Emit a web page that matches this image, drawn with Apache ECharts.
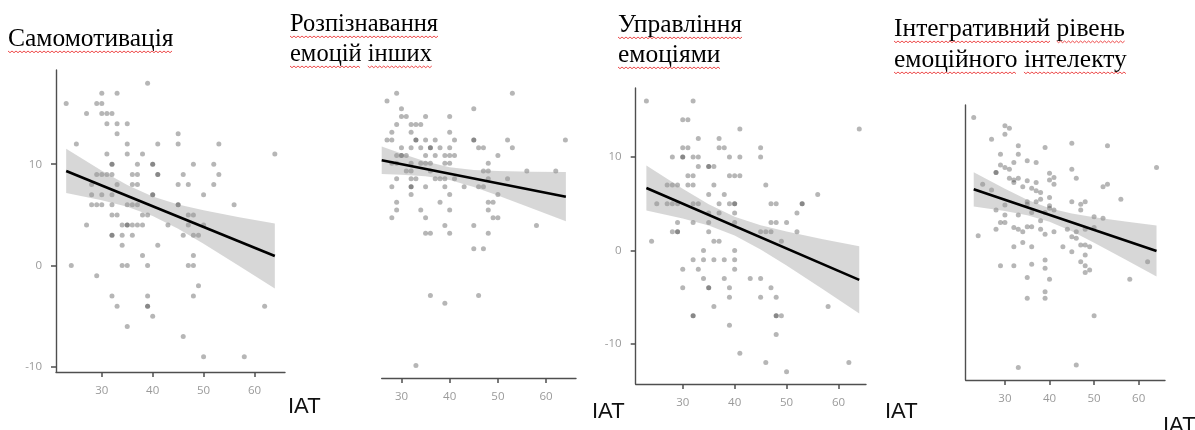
<!DOCTYPE html>
<html><head><meta charset="utf-8">
<script src="https://cdn.jsdelivr.net/npm/echarts@6/dist/echarts.min.js"></script>
<style>html,body{margin:0;padding:0;background:#fff}#c{width:1195px;height:430px}</style>
</head><body><div id="c"></div>
<script>
// ---------- DATA ----------
const xTickValues = [30, 40, 50, 60];
const yTickValues = [-10, 0, 10];
const axisNameText = 'IAT';
const titleLines = [
  ['Самомотивація'],
  ['Розпізнавання', 'емоцій інших'],
  ['Управління', 'емоціями'],
  ['Інтегративний рівень', 'емоційного інтелекту']
];

// Самомотивація
const p1Points = [[23,16],[39,18],[30,17],[33,17],[29,16],[30,16],[27,15],[30,15],[31,15],[32,15],[31,14],[33,14],[35,14],[33,13],[45,13],[25,12],[35,12],[41,12],[45,12],[53,12],[31,11],[35,11],[38,11],[64,11],[32,10],[32,10],[37,10],[40,10],[40,10],[48,10],[52,10],[29,9],[30,9],[31,9],[32,9],[36,9],[37,9],[41,9],[41,9],[46,9],[53,9],[28,8],[33,8],[36,8],[37,8],[45,8],[47,8],[52,8],[28,7],[30,7],[32,7],[40,7],[40,7],[50,7],[28,6],[29,6],[30,6],[32,6],[35,6],[36,6],[37,6],[45,6],[45,6],[56,6],[32,5],[33,5],[38,5],[39,5],[47,5],[48,5],[27,4],[34,4],[35,4],[35,4],[36,4],[37,4],[38,4],[43,4],[47,4],[50,4],[32,3],[32,3],[34,3],[36,3],[46,3],[48,3],[49,3],[34,2],[41,2],[38,1],[48,1],[24,0],[34,0],[35,0],[39,0],[47,0],[48,0],[29,-1],[49,-2],[32,-3],[39,-3],[48,-3],[33,-4],[39,-4],[39,-4],[62,-4],[40,-5],[35,-6],[46,-7],[50,-9],[58,-9]];
const p1FitX = [23, 64];
const p1FitY = [9.34, 0.94];
const p1BandX = [23, 30, 35, 40, 45, 50, 57, 64];
const p1BandUpper = [11.52, 9.36, 7.95, 6.82, 6.03, 5.46, 4.77, 4.15];
const p1BandLower = [7.16, 6.45, 5.81, 4.90, 3.63, 2.16, -0.03, -2.27];

// Розпізнавання емоцій інших
const p2Points = [[29,15],[53,15],[27,14],[30,13],[45,13],[30,12],[31,12],[35,12],[40,12],[29,11],[32,11],[33,11],[34,11],[28,10],[32,10],[40,10],[27,9],[28,9],[33,9],[33,9],[35,9],[37,9],[41,9],[45,9],[45,9],[52,9],[64,9],[30,8],[32,8],[34,8],[36,8],[36,8],[38,8],[40,8],[46,8],[47,8],[53,8],[29,7],[30,7],[30,7],[31,7],[35,7],[37,7],[39,7],[40,7],[41,7],[50,7],[28,6],[29,6],[32,6],[34,6],[35,6],[36,6],[39,6],[40,6],[48,6],[31,5],[32,5],[36,5],[47,5],[48,5],[56,5],[62,5],[29,4],[32,4],[33,4],[37,4],[38,4],[39,4],[41,4],[48,4],[52,4],[28,3],[32,3],[32,3],[35,3],[39,3],[43,3],[46,3],[47,3],[32,2],[40,2],[50,2],[29,1],[38,1],[48,1],[49,1],[29,0],[34,0],[40,0],[48,0],[28,-1],[35,-1],[49,-1],[50,-1],[39,-2],[45,-2],[58,-2],[35,-3],[36,-3],[40,-3],[48,-3],[45,-5],[47,-5],[36,-11],[46,-11],[39,-12],[33,-20]];
const p2FitX = [25.9, 64.1];
const p2FitY = [6.40, 1.70];
const p2BandX = [25.9, 30, 35, 40, 45, 50, 57, 64.1];
const p2BandUpper = [8.17, 7.26, 6.22, 5.48, 5.14, 5.01, 4.92, 4.87];
const p2BandLower = [4.61, 4.54, 4.34, 3.86, 2.96, 1.87, 0.22, -1.45];

// Управління емоціями
const p3Points = [[23,16],[32,16],[30,14],[31,14],[41,13],[64,13],[33,12],[37,12],[30,11],[31,11],[37,11],[38,11],[45,11],[28,10],[30,10],[30,10],[32,10],[33,10],[39,10],[41,10],[45,10],[33,9],[35,9],[35,9],[36,9],[31,8],[32,8],[39,8],[40,8],[41,8],[27,7],[28,7],[29,7],[31,7],[32,7],[36,7],[46,7],[35,6],[38,6],[56,6],[25,5],[27,5],[28,5],[29,5],[32,5],[33,5],[37,5],[39,5],[40,5],[40,5],[47,5],[48,5],[53,5],[53,5],[35,4],[37,4],[40,4],[52,4],[29,3],[32,3],[35,3],[40,3],[47,3],[48,3],[50,3],[28,2],[29,2],[29,2],[35,2],[45,2],[46,2],[47,2],[52,2],[24,1],[36,1],[37,1],[49,1],[34,0],[40,0],[32,-1],[34,-1],[36,-1],[38,-1],[40,-1],[30,-2],[33,-2],[40,-2],[34,-3],[38,-3],[43,-3],[45,-3],[30,-4],[35,-4],[35,-4],[39,-4],[47,-4],[39,-5],[45,-5],[48,-5],[36,-6],[58,-6],[32,-7],[32,-7],[48,-7],[48,-7],[49,-7],[39,-8],[48,-9],[41,-11],[46,-12],[62,-12],[50,-13]];
const p3FitX = [23, 64];
const p3FitY = [6.69, -3.15];
const p3BandX = [23, 30, 35, 40, 45, 50, 57, 64];
const p3BandUpper = [9.11, 6.60, 4.95, 3.62, 2.71, 2.03, 1.21, 0.44];
const p3BandLower = [4.27, 3.42, 2.67, 1.60, 0.11, -1.61, -4.15, -6.74];

// Інтегративний рівень емоційного інтелекту
const p4Points = [[23,16.7],[30,15.7],[31,15.4],[27,14.1],[30,14.7],[33,13.3],[39,13.1],[45,13.6],[53,13.3],[29,12.3],[33,12.3],[35,11.5],[37,11.3],[32,11.3],[29,11.0],[30,10.7],[31,10.5],[28,10.1],[28,10.1],[40,10.0],[41,9.5],[40,9.2],[45,10.5],[46,9.4],[64,10.7],[31,9.4],[32,9.2],[32,8.9],[35,9.1],[37,8.9],[33,9.4],[25,8.7],[27,8.0],[41,8.7],[34,8.4],[36,8.2],[37,7.9],[38,7.7],[53,8.7],[52,8.4],[56,6.9],[40,7.1],[35,6.6],[35,6.3],[37,6.6],[38,6.9],[45,6.6],[47,6.3],[48,6.6],[30,6.2],[28,5.6],[40,6.1],[40,5.8],[41,5.6],[47,5.6],[30,5.0],[33,5.0],[36,5.3],[39,5.3],[38,4.3],[50,4.8],[52,4.6],[29,4.1],[30,4.1],[28,3.3],[32,3.5],[33,3.3],[34,3.0],[35,3.6],[36,3.6],[38,3.3],[39,2.7],[41,3.0],[44,3.3],[46,3.0],[48,3.3],[50,3.5],[24,2.5],[34,1.7],[45,2.4],[46,2.2],[32,1.2],[36,1.2],[43,1.2],[45,0.6],[47,1.4],[48,1.4],[49,1.2],[48,0.2],[39,-0.4],[39,-1.4],[29,-1.1],[32,-1.1],[36,-0.9],[47,-0.6],[48,-1.1],[49,-1.6],[48,-1.9],[62,-0.6],[35,-2.5],[40,-2.7],[58,-2.7],[39,-4.2],[39,-5.0],[35,-5.0],[50,-7.1],[33,-13.3],[46,-13.0]];
const p4FitX = [23, 64];
const p4FitY = [8.08, 0.68];
const p4BandX = [23, 30, 35, 40, 45, 50, 57, 64];
const p4BandUpper = [10.14, 8.15, 6.84, 5.82, 5.18, 4.74, 4.22, 3.74];
const p4BandLower = [6.02, 5.49, 4.98, 4.20, 3.04, 1.68, -0.34, -2.38];

// ---------- LAYOUT ----------
const panels = [
  {pts:p1Points, fx:p1FitX, fy:p1FitY, bx:p1BandX, bu:p1BandUpper, bl:p1BandLower,
   grid:{left:56, top:70, width:229, height:302}, xr:[21,66], yr:[-10.5,19.3], yLine:true, yLabels:true},
  {pts:p2Points, fx:p2FitX, fy:p2FitY, bx:p2BandX, bu:p2BandUpper, bl:p2BandLower,
   grid:{left:381.7, top:85.5, width:194.3, height:292.5}, xr:[25.9,66.2], yr:[-21.6,16], yLine:false, yLabels:false},
  {pts:p3Points, fx:p3FitX, fy:p3FitY, bx:p3BandX, bu:p3BandUpper, bl:p3BandLower,
   grid:{left:635.7, top:88, width:230.3, height:296}, xr:[20.94,65.3], yr:[-14.3,17.4], yLine:true, yLabels:true},
  {pts:p4Points, fx:p4FitX, fy:p4FitY, bx:p4BandX, bu:p4BandUpper, bl:p4BandLower,
   grid:{left:965.7, top:105, width:199.3, height:275}, xr:[21.2,65.9], yr:[-14.8,18.2], yLine:true, yLabels:false}
];
// baselines of title lines
const titleLayout = [
  {x:8, base:[47], size:25.5},
  {x:290, base:[32,62], size:24.5},
  {x:618, base:[33,63], size:25.5},
  {x:894, base:[37,68], size:25.5}
];
const nameLayout = [{x:288, base:414},{x:592, base:419},{x:885, base:419},{x:1163, base:433}];

const axisColor = '#4f4f4f';
const labelColor = '#9a9a9a';
const nameFont = '22px "Liberation Sans"';

const grids = [], xAxes = [], yAxes = [], series = [];
panels.forEach((p, i) => {
  grids.push(Object.assign({outerBoundsMode:'none', containLabel:false}, p.grid));
  xAxes.push({
    type:'value', gridIndex:i, min:p.xr[0], max:p.xr[1],
    axisLine:{show:true, onZero:false, lineStyle:{color:axisColor, width:1.4}},
    axisTick:{show:true, length:5, customValues:xTickValues, lineStyle:{color:axisColor, width:1.5}},
    axisLabel:{show:true, customValues:xTickValues, color:labelColor, fontSize:11.5, margin:13, fontFamily:'"Open Sans"'},
    splitLine:{show:false}
  });
  yAxes.push({
    type:'value', gridIndex:i, min:p.yr[0], max:p.yr[1],
    axisLine:{show:p.yLine, onZero:false, lineStyle:{color:axisColor, width:1.4}},
    axisTick:{show:p.yLabels, length:5, customValues:yTickValues, lineStyle:{color:axisColor, width:1.5}},
    axisLabel:{show:p.yLabels, customValues:yTickValues, color:labelColor, fontSize:11.5, margin:14, fontFamily:'"Open Sans"'},
    splitLine:{show:false}
  });
  series.push({
    type:'scatter', xAxisIndex:i, yAxisIndex:i, data:p.pts, symbolSize:5, z:2,
    itemStyle:{color:'rgba(60,60,60,0.47)'}, silent:true
  });
  const bx = p.bx, bu = p.bu, bl = p.bl;
  series.push({
    type:'custom', xAxisIndex:i, yAxisIndex:i, z:3, silent:true,
    data: bx.map((x,k) => [x, bl[k], bu[k]]),
    encode:{x:0, y:[1,2]},
    renderItem:(params, api) => {
      if (params.dataIndex !== 0) return null;
      const pts = [];
      for (let k = 0; k < bx.length; k++) pts.push(api.coord([bx[k], bu[k]]));
      for (let k = bx.length - 1; k >= 0; k--) pts.push(api.coord([bx[k], bl[k]]));
      return {type:'polygon', shape:{points:pts}, style:{fill:'rgba(150,150,150,0.38)'}};
    }
  });
  series.push({
    type:'line', xAxisIndex:i, yAxisIndex:i, z:4, silent:true, symbol:'none',
    data: p.fx.map((x,k) => [x, p.fy[k]]),
    lineStyle:{color:'#000', width:2.6}
  });
});

// text measurement for spell-check squiggles
const mctx = document.createElement('canvas').getContext('2d');
function tw(s, font){ mctx.font = font; return mctx.measureText(s).width; }
function squiggle(x0, x1, y){
  const pts = [];
  let k = 0;
  for (let x = x0; x <= x1; x += 2, k++) pts.push([x, y + (k % 2 ? 1.7 : 0)]);
  return {type:'polyline', silent:true, shape:{points:pts}, style:{stroke:'rgba(235,55,55,0.9)', lineWidth:1, fill:null}};
}

const graphics = [];
titleLines.forEach((lines, i) => {
  const L = titleLayout[i];
  const font = L.size + 'px "Liberation Serif"';
  const descent = L.size * 0.2;
  lines.forEach((line, j) => {
    const base = L.base[j];
    graphics.push({type:'text', silent:true, style:{text:line, x:L.x, y:base + descent, font:font, fill:'#000', verticalAlign:'bottom'}});
    let cursor = 0;
    line.split(' ').forEach(w => {
      const ww = tw(w, font);
      graphics.push(squiggle(L.x + cursor, L.x + cursor + ww, base + 4));
      cursor += ww + tw(' ', font);
    });
  });
});
nameLayout.forEach(n => {
  graphics.push({type:'text', silent:true, style:{text:axisNameText, x:n.x, y:n.base + 4, font:nameFont, fill:'#111', verticalAlign:'bottom'}});
});

const chart = echarts.init(document.getElementById('c'), null, {renderer:'canvas'});
chart.setOption({
  animation:false,
  backgroundColor:'#fff',
  grid:grids, xAxis:xAxes, yAxis:yAxes, series:series,
  graphic:{elements:graphics}
});
</script></body></html>
